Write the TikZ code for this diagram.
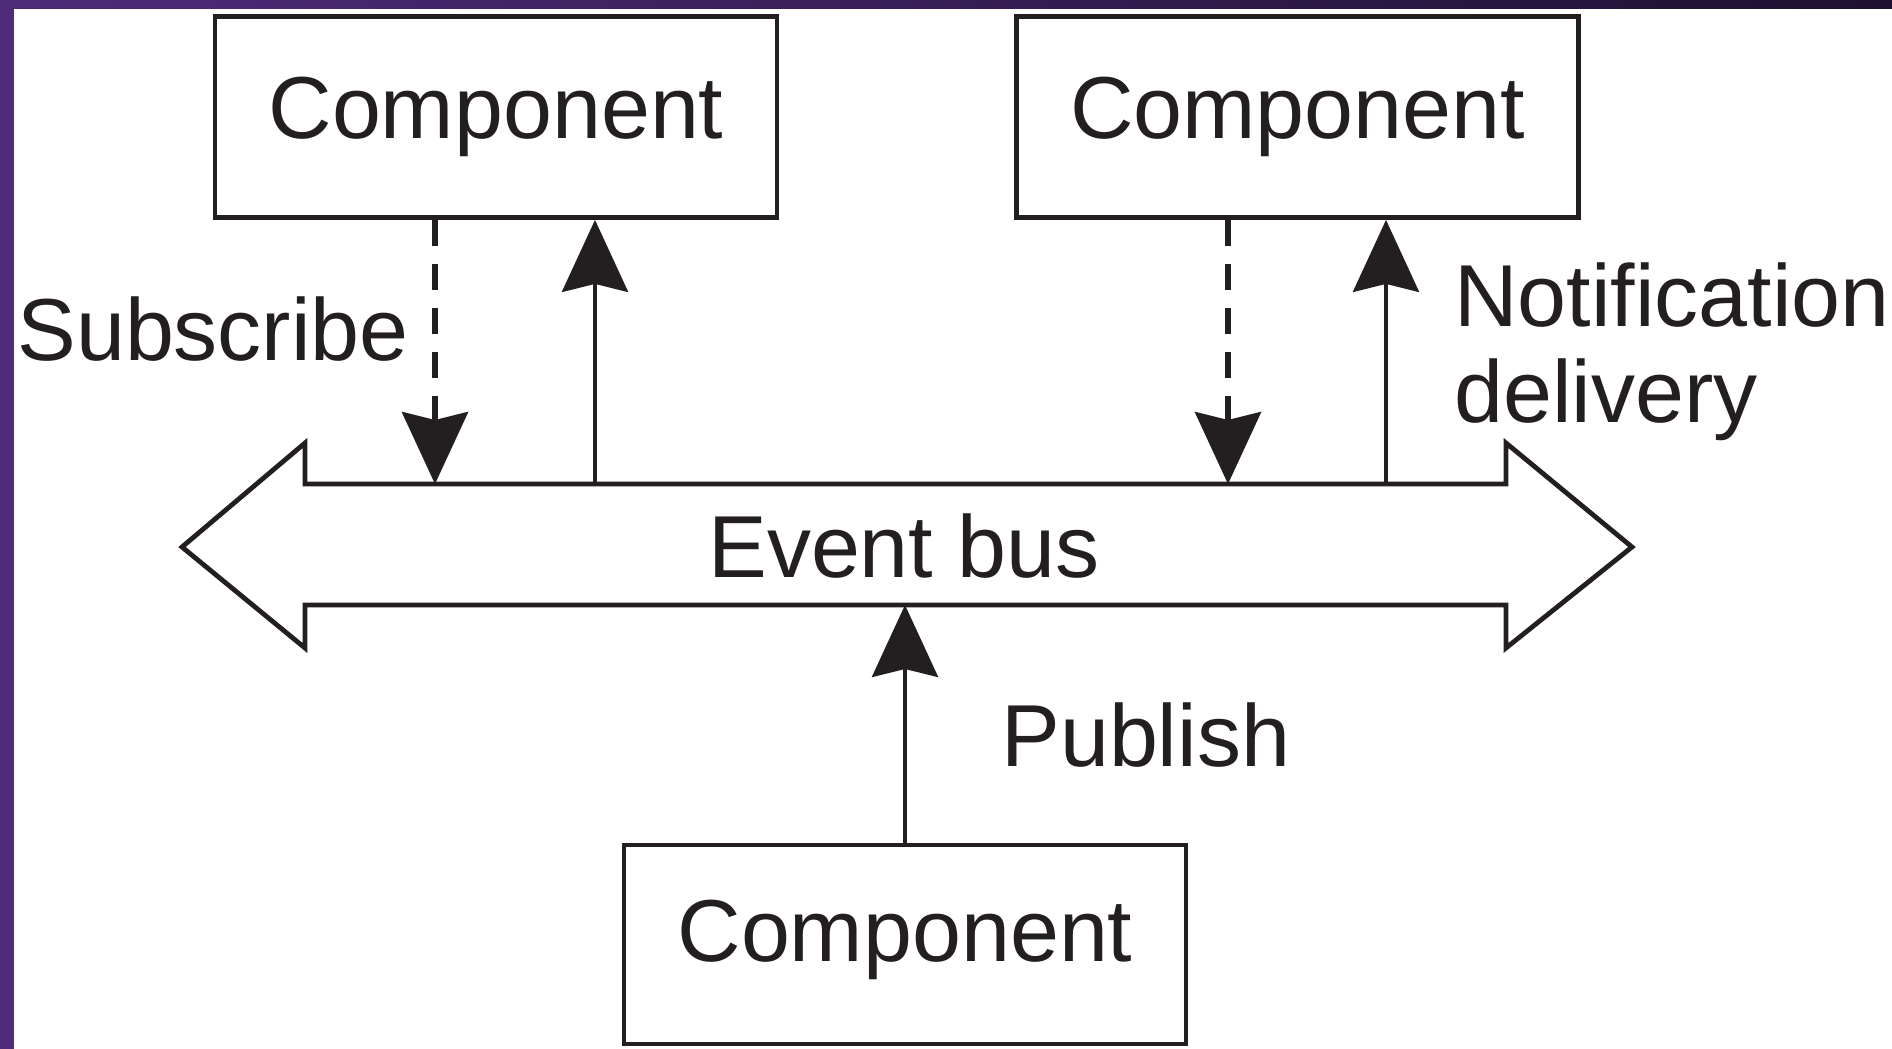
\documentclass[tikz,border=0pt]{standalone}
\usepackage{fontspec}
\setmainfont{Liberation Sans}
\usetikzlibrary{arrows.meta}
\definecolor{framepurple}{HTML}{4E2C7A}
\definecolor{framedark}{HTML}{1E1030}
\definecolor{ink}{HTML}{231F20}
\begin{document}
\begin{tikzpicture}[x=0.5pt,y=-0.5pt,
  comp/.style={draw=ink,line width=2.4pt,minimum width=281pt,minimum height=100.5pt,inner sep=0pt,font=\fontsize{44}{53}\selectfont,text=ink},
  lbl/.style={font=\fontsize{44}{48}\selectfont,text=ink,inner sep=0pt},
  solidarrow/.style={draw=ink,line width=2pt,-{Stealth[length=36pt,width=33pt,inset=4pt]}},
  dasharrow/.style={solidarrow,line width=2.6pt,dash pattern=on 13pt off 9pt}]
\useasboundingbox (0,0) rectangle (1892,1049);
\fill[white] (0,0) rectangle (1892,1049);
\shade[left color=framepurple,right color=framedark] (0,0) rectangle (1892,8);
\fill[framepurple] (0,0) rectangle (14,1049);
% components
\node[comp] (c1) at (496,117) {Component};
\node[comp] (c2) at (1297.5,117) {Component};
\node[comp,minimum height=99.5pt,text depth=14pt] (c3) at (905,944.5) {Component};
% event bus
\draw[ink,line width=2.4pt,line join=miter,fill=white] (305,484) -- (1506,484) -- (1506,443) -- (1632,547) -- (1506,648) -- (1506,605) -- (305,605) -- (305,648) -- (182,547) -- (305,443) -- cycle;
\node[lbl,anchor=base] (bus) at (904,577) {Event bus};
\coordinate (sL) at (435,484);
\coordinate (nL) at (595,484);
\coordinate (sR) at (1228,484);
\coordinate (nR) at (1386,484);
\coordinate (pB) at (905,605);
% connectors
\draw[dasharrow] (sL |- c1.south) -- (sL);
\draw[solidarrow] (nL) -- (nL |- c1.south);
\draw[dasharrow] (sR |- c2.south) -- (sR);
\draw[solidarrow] (nR) -- (nR |- c2.south);
\draw[solidarrow] (pB |- c3.north) -- (pB);
% labels
\node[lbl,anchor=base west] (sub) at (17,360) {Subscribe};
\node[lbl,anchor=base west,align=left] (notif) at (1454,422) {Notification\\delivery};
\node[lbl,anchor=base west] (pub) at (1001,766) {Publish};
\end{tikzpicture}
\end{document}
